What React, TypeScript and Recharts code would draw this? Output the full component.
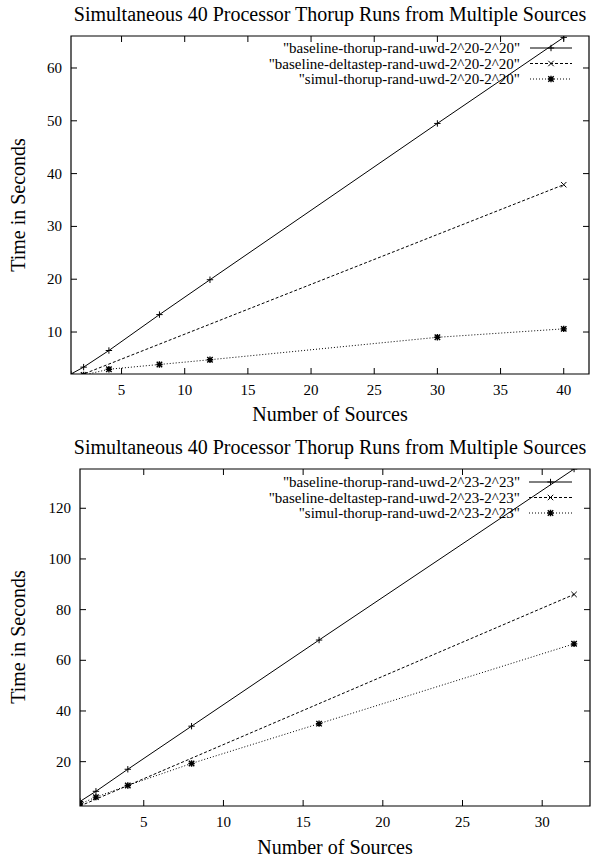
import React from 'react';
import { LineChart, Line, XAxis, YAxis, ReferenceArea } from 'recharts';

// ---------- data: chart 1 (2^20) ----------
const title1 = 'Simultaneous 40 Processor Thorup Runs from Multiple Sources';
const names1 = [
  '"baseline-thorup-rand-uwd-2^20-2^20"',
  '"baseline-deltastep-rand-uwd-2^20-2^20"',
  '"simul-thorup-rand-uwd-2^20-2^20"',
];
const thorupX1 = [1, 2, 4, 8, 12, 30, 40];
const thorupY1 = [2.05, 3.35, 6.5, 13.3, 19.9, 49.5, 65.8];
const deltaX1 = [1, 40];
const deltaY1 = [1.1, 37.9];
const simulX1 = [2, 4, 8, 12, 30, 40];
const simulY1 = [1.85, 2.95, 3.85, 4.75, 9.0, 10.6];
const xTicks1 = [5, 10, 15, 20, 25, 30, 35, 40];
const yTicks1 = [10, 20, 30, 40, 50, 60];
const xDomain1: [number, number] = [1, 42];
const yDomain1: [number, number] = [2.05, 66.06];

// ---------- data: chart 2 (2^23) ----------
const title2 = 'Simultaneous 40 Processor Thorup Runs from Multiple Sources';
const names2 = [
  '"baseline-thorup-rand-uwd-2^23-2^23"',
  '"baseline-deltastep-rand-uwd-2^23-2^23"',
  '"simul-thorup-rand-uwd-2^23-2^23"',
];
const sourcesX2 = [1, 2, 4, 8, 16, 32];
const thorupY2 = [4.3, 8.3, 17.0, 34.0, 68.0, 135.5];
const deltaX2 = [1, 32];
const deltaY2 = [2.5, 86.0];
const simulY2 = [3.3, 6.0, 10.6, 19.3, 35.0, 66.5];
const xTicks2 = [5, 10, 15, 20, 25, 30];
const yTicks2 = [20, 40, 60, 80, 100, 120];
const xDomain2: [number, number] = [1, 33];
const yDomain2: [number, number] = [2.5, 135.5];

const xLabel = 'Number of Sources';
const yLabel = 'Time in Seconds';

const FONT = '"Liberation Serif", "DejaVu Serif", serif';

const zip = (xs: number[], ys: number[]) => xs.map((x, i) => ({ x, y: ys[i] }));

type Marker = 'plus' | 'cross' | 'star';

function MarkerShape({ cx, cy, kind }: { cx: number; cy: number; kind: Marker }) {
  const s = 3.2;
  const plus = `M${cx - s},${cy}H${cx + s}M${cx},${cy - s}V${cy + s}`;
  const c = s * 0.85;
  const cross = `M${cx - c},${cy - c}L${cx + c},${cy + c}M${cx - c},${cy + c}L${cx + c},${cy - c}`;
  const d = kind === 'plus' ? plus : kind === 'cross' ? cross : plus + cross;
  return <path d={d} stroke="#000" strokeWidth={kind === 'star' ? 1.4 : 1} fill="none" />;
}

const dotFor = (kind: Marker) => (p: any) => {
  if (p.cx == null || p.cy == null) return <g key={p.index} />;
  return (
    <g key={p.index}>
      <MarkerShape cx={p.cx} cy={p.cy} kind={kind} />
    </g>
  );
};

const dashes: Record<Marker, string | undefined> = {
  plus: undefined,
  cross: '3 2',
  star: '1 2',
};

interface Geo {
  w: number;
  h: number;
  left: number;
  right: number;
  top: number;
  bottom: number;
}

const AXIS_W = 60;
const AXIS_H = 40;

function PlotChart(props: {
  geo: Geo;
  series: { data: { x: number; y: number }[]; kind: Marker }[];
  xDomain: [number, number];
  yDomain: [number, number];
  xTicks: number[];
  yTicks: number[];
}) {
  const { geo, series, xDomain, yDomain, xTicks, yTicks } = props;
  const plotTop = geo.top;
  const plotLeft = geo.left;
  const plotRight = geo.w - geo.right;
  const plotBottom = geo.h - geo.bottom;

  const XTick = (p: any) => {
    const { x, payload } = p;
    return (
      <g>
        <line x1={x} x2={x} y1={plotBottom} y2={plotBottom - 6} stroke="#000" />
        <line x1={x} x2={x} y1={plotTop} y2={plotTop + 6} stroke="#000" />
        <text x={x} y={plotBottom + 21} textAnchor="middle" fontFamily={FONT} fontSize={15} fill="#000">
          {payload.value}
        </text>
      </g>
    );
  };
  const YTick = (p: any) => {
    const { y, payload } = p;
    return (
      <g>
        <line x1={plotLeft} x2={plotLeft + 6} y1={y} y2={y} stroke="#000" />
        <line x1={plotRight} x2={plotRight - 6} y1={y} y2={y} stroke="#000" />
        <text x={plotLeft - 9} y={y + 5} textAnchor="end" fontFamily={FONT} fontSize={15} fill="#000">
          {payload.value}
        </text>
      </g>
    );
  };

  return (
    <LineChart
      width={geo.w}
      height={geo.h}
      margin={{ top: geo.top, right: geo.right, bottom: geo.bottom - AXIS_H, left: geo.left - AXIS_W }}
    >
      <XAxis
        type="number"
        dataKey="x"
        domain={xDomain}
        ticks={xTicks}
        interval={0}
        allowDataOverflow
        height={AXIS_H}
        tickSize={0}
        tickMargin={0}
        axisLine={false}
        tickLine={false}
        tick={XTick}
      />
      <YAxis
        type="number"
        dataKey="y"
        domain={yDomain}
        ticks={yTicks}
        interval={0}
        allowDataOverflow
        width={AXIS_W}
        tickSize={0}
        tickMargin={0}
        axisLine={false}
        tickLine={false}
        tick={YTick}
      />
      <ReferenceArea
        x1={xDomain[0]}
        x2={xDomain[1]}
        y1={yDomain[0]}
        y2={yDomain[1]}
        fill="none"
        fillOpacity={0}
        stroke="#000"
        strokeWidth={1.2}
      />
      {series.map((s, i) => (
        <Line
          key={i}
          data={s.data}
          dataKey="y"
          type="linear"
          stroke="#000"
          strokeWidth={1}
          strokeDasharray={dashes[s.kind]}
          dot={dotFor(s.kind)}
          activeDot={false}
          isAnimationActive={false}
        />
      ))}
    </LineChart>
  );
}

function LegendBlock({ names, top, textRight, lineStart, lineEnd }: { names: string[]; top: number; textRight: number; lineStart: number; lineEnd: number }) {
  const kinds: Marker[] = ['plus', 'cross', 'star'];
  return (
    <g>
      {names.map((n, i) => {
        const y = top + i * 15.5;
        const mid = (lineStart + lineEnd) / 2;
        return (
          <g key={i}>
            <text x={textRight} y={y + 5} textAnchor="end" fontFamily={FONT} fontSize={15} fill="#000">
              {n}
            </text>
            <line x1={lineStart} x2={lineEnd} y1={y} y2={y} stroke="#000" strokeDasharray={dashes[kinds[i]]} />
            <MarkerShape cx={mid} cy={y} kind={kinds[i]} />
          </g>
        );
      })}
    </g>
  );
}

const geo1: Geo = { w: 598, h: 430, left: 71, right: 9, top: 36, bottom: 56 };
const geo2: Geo = { w: 598, h: 429, left: 80, right: 8, top: 41, bottom: 51 };
const chart2Top = 428;

export default function App() {
  const series1 = [
    { data: zip(thorupX1, thorupY1), kind: 'plus' as Marker },
    { data: zip(deltaX1, deltaY1), kind: 'cross' as Marker },
    { data: zip(simulX1, simulY1), kind: 'star' as Marker },
  ];
  const series2 = [
    { data: zip(sourcesX2, thorupY2), kind: 'plus' as Marker },
    { data: zip(deltaX2, deltaY2), kind: 'cross' as Marker },
    { data: zip(sourcesX2, simulY2), kind: 'star' as Marker },
  ];
  return (
    <div style={{ position: 'absolute', left: 0, top: 0, width: 598, height: 857, background: '#fff', overflow: 'hidden' }}>
      <div style={{ position: 'absolute', left: 0, top: 0 }}>
        <PlotChart geo={geo1} series={series1} xDomain={xDomain1} yDomain={yDomain1} xTicks={xTicks1} yTicks={yTicks1} />
      </div>
      <div style={{ position: 'absolute', left: 0, top: chart2Top }}>
        <PlotChart geo={geo2} series={series2} xDomain={xDomain2} yDomain={yDomain2} xTicks={xTicks2} yTicks={yTicks2} />
      </div>
      <svg width={598} height={857} style={{ position: 'absolute', left: 0, top: 0, pointerEvents: 'none' }}>
        <text x={330} y={21} textAnchor="middle" fontFamily={FONT} fontSize={20} fill="#000">{title1}</text>
        <text x={330} y={421} textAnchor="middle" fontFamily={FONT} fontSize={20} fill="#000">{xLabel}</text>
        <text transform="translate(25,205) rotate(-90)" textAnchor="middle" fontFamily={FONT} fontSize={20} fill="#000">{yLabel}</text>
        <LegendBlock names={names1} top={48} textRight={520} lineStart={530} lineEnd={572} />
        <text x={330} y={454} textAnchor="middle" fontFamily={FONT} fontSize={20} fill="#000">{title2}</text>
        <text x={335} y={854} textAnchor="middle" fontFamily={FONT} fontSize={20} fill="#000">{xLabel}</text>
        <text transform="translate(25,637) rotate(-90)" textAnchor="middle" fontFamily={FONT} fontSize={20} fill="#000">{yLabel}</text>
        <LegendBlock names={names2} top={482} textRight={520} lineStart={529} lineEnd={572} />
      </svg>
    </div>
  );
}
